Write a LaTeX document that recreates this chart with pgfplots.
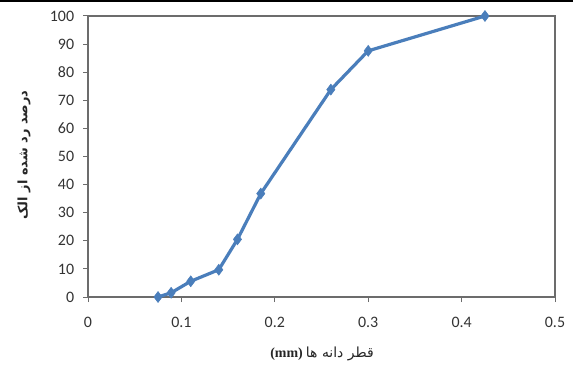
\documentclass[border=0pt]{standalone}
\usepackage{fontspec}
\setmainfont{Carlito}
\newfontfamily\serifb{Liberation Serif}
\TeXXeTstate=1
\newfontfamily\arabicfont[Script=Arabic]{DejaVu Sans}
\usepackage{pgfplots}
\pgfplotsset{compat=1.18}
\definecolor{exblue}{RGB}{74,126,187}
\begin{document}
\begin{tikzpicture}
\useasboundingbox (0,0) rectangle (573bp,378bp);
\fill[white] (0,0) rectangle (573bp,378bp);
\draw[black, line width=2bp] (0,377bp) -- (573bp,377bp);
\begin{axis}[
  at={(88bp,81bp)}, anchor=south west,
  scale only axis, width=467bp, height=281bp,
  xmin=0, xmax=0.5, ymin=0, ymax=100,
  xtick={0,0.1,0.2,0.3,0.4,0.5},
  xticklabels={0,0.1,0.2,0.3,0.4,0.5},
  ytick={0,10,...,100},
  tick align=outside, tick pos=left,
  major tick length=5bp,
  axis line style={draw=gray!85!black, line width=1.1bp},
  every axis/.append style={draw=gray!85!black, line width=1.1bp},
  tick style={gray!85!black, line width=1bp},
  /pgf/number format/assume math mode=true,
  tick label style={font=\fontsize{16}{18}\selectfont, text=black!80},
  xticklabel style={yshift=-11bp},
  yticklabel style={xshift=-5bp},
  clip=false,
]
\addplot[exblue, line width=3.2bp, mark=diamond*, mark size=5.5bp, mark options={fill=exblue, line width=0.5bp}]
coordinates {
(0.075,0) (0.089,1.5) (0.110,5.6) (0.140,9.7) (0.160,20.5) (0.185,36.8)
(0.260,73.8) (0.300,87.6) (0.425,100)
};
\end{axis}
\node[rotate=90, font=\arabicfont\bfseries\fontsize{13}{15}\selectfont, text=black!85] at (24bp,223bp) {\beginR درصد رد شده از الک\endR};
\node[font=\fontsize{14}{16}\selectfont, text=black!85] at (322bp,24bp) {{\serifb\bfseries (mm)} {\arabicfont\beginR قطر دانه ها\endR}};
\end{tikzpicture}
\end{document}
